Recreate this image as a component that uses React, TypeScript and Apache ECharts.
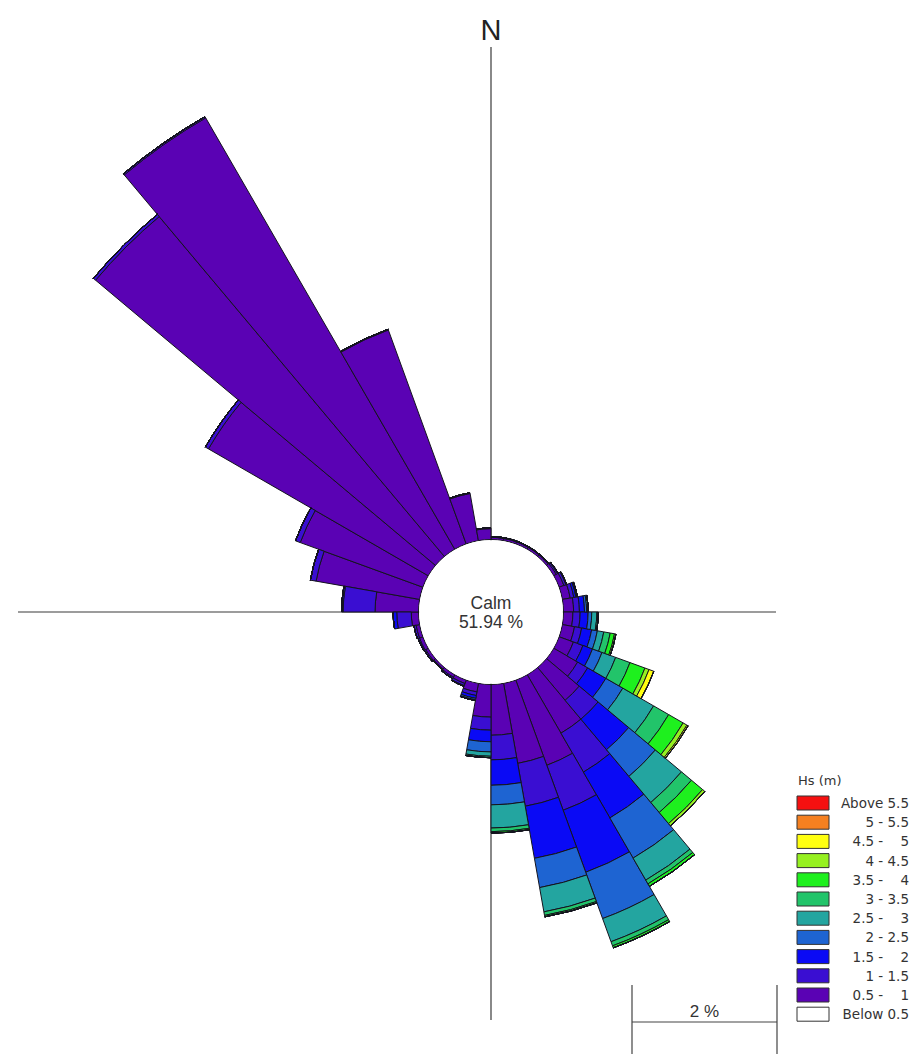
import React, { useEffect, useRef } from "react";
import * as echarts from "echarts";

// Direction bins (degrees, clockwise from North), 10° each
const directions = [
  "0", "10", "20", "30", "40", "50", "60", "70", "80", "90", "100", "110",
  "120", "130", "140", "150", "160", "170", "180", "190", "200", "210", "220", "230",
  "240", "250", "260", "270", "280", "290", "300", "310", "320", "330", "340", "350",
];

// Frequency (%) per direction bin for each Hs class
const hs_05_1 = [
  0.03, 0.03, 0.03, 0.03, 0.03, 0.04, 0.07, 0.11, 0.14, 0.13, 0.17, 0.21,
  0.38, 0.59, 0.93, 1.25, 1.12, 0.70, 0.45, 0.12, 0.05, 0.04, 0.03, 0.04,
  0.05, 0.05, 0.10, 0.60, 1.45, 1.80, 3.50, 6.12, 6.87, 3.14, 0.66, 0.15,
];
const hs_1_15 = [
  0.01, 0.01, 0.01, 0.01, 0.01, 0.02, 0.03, 0.05, 0.08, 0.10, 0.10, 0.14,
  0.16, 0.34, 0.62, 0.66, 0.60, 0.34, 0.18, 0.05, 0.03, 0.02, 0.01, 0.02,
  0.02, 0.03, 0.20, 0.44, 0.08, 0.07, 0.05, 0.04, 0.02, 0.01, 0.01, 0.01,
];
const hs_15_2 = [
  0, 0, 0, 0, 0, 0.01, 0.01, 0.03, 0.07, 0.11, 0.14, 0.14,
  0.29, 0.55, 0.73, 0.91, 0.73, 0.35, 0.16, 0.04, 0.01, 0, 0, 0,
  0, 0, 0.05, 0.02, 0, 0, 0, 0, 0, 0, 0, 0,
];
const hs_2_25 = [
  0, 0, 0, 0, 0, 0, 0, 0.01, 0.03, 0.05, 0.08, 0.14,
  0.27, 0.48, 0.64, 0.68, 0.41, 0.27, 0.14, 0.02, 0, 0, 0, 0,
  0, 0, 0, 0, 0, 0, 0, 0, 0, 0, 0, 0,
];
const hs_25_3 = [
  0, 0, 0, 0, 0, 0, 0, 0.01, 0.02, 0.07, 0.09, 0.20,
  0.49, 0.47, 0.35, 0.34, 0.34, 0.32, 0.06, 0.01, 0, 0, 0, 0,
  0, 0, 0, 0, 0, 0, 0, 0, 0, 0, 0, 0,
];
const hs_3_35 = [
  0, 0, 0, 0, 0, 0, 0, 0, 0, 0.02, 0.09, 0.21,
  0.24, 0.18, 0.06, 0.06, 0.05, 0.05, 0.02, 0, 0, 0, 0, 0,
  0, 0, 0, 0, 0, 0, 0, 0, 0, 0, 0, 0,
];
const hs_35_4 = [
  0, 0, 0, 0, 0, 0, 0, 0, 0, 0, 0.06, 0.22,
  0.23, 0.20, 0.04, 0.03, 0.02, 0.02, 0, 0, 0, 0, 0, 0,
  0, 0, 0, 0, 0, 0, 0, 0, 0, 0, 0, 0,
];
const hs_4_45 = [
  0, 0, 0, 0, 0, 0, 0, 0, 0, 0, 0.02, 0.06,
  0.06, 0.04, 0, 0, 0, 0, 0, 0, 0, 0, 0, 0,
  0, 0, 0, 0, 0, 0, 0, 0, 0, 0, 0, 0,
];
const hs_45_5 = [
  0, 0, 0, 0, 0, 0, 0, 0, 0, 0, 0, 0.07,
  0.02, 0, 0, 0, 0, 0, 0, 0, 0, 0, 0, 0,
  0, 0, 0, 0, 0, 0, 0, 0, 0, 0, 0, 0,
];
const hs_5_55 = [
  0, 0, 0, 0, 0, 0, 0, 0, 0, 0, 0, 0,
  0, 0, 0, 0, 0, 0, 0, 0, 0, 0, 0, 0,
  0, 0, 0, 0, 0, 0, 0, 0, 0, 0, 0, 0,
];
const hs_above_55 = [
  0, 0, 0, 0, 0, 0, 0, 0, 0, 0, 0, 0,
  0, 0, 0, 0, 0, 0, 0, 0, 0, 0, 0, 0,
  0, 0, 0, 0, 0, 0, 0, 0, 0, 0, 0, 0,
];

const classData = [hs_05_1, hs_1_15, hs_15_2, hs_2_25, hs_25_3, hs_3_35, hs_35_4, hs_4_45, hs_45_5, hs_5_55, hs_above_55];
const classLabels = [
  "0.5 -    1", "1 - 1.5", "1.5 -    2", "2 - 2.5", "2.5 -    3", "3 - 3.5",
  "3.5 -    4", "4 - 4.5", "4.5 -    5", "5 - 5.5", "Above 5.5",
];
const classColors = [
  "#5A02B4", "#3A0ED2", "#0A0AF5", "#1E64D2", "#23A5A0", "#22C46A",
  "#1EF01E", "#96F020", "#FFFF10", "#F58020", "#F51010",
];
const belowLabel = "Below 0.5";
const legendTitle = "Hs (m)";
const calmLabel = "Calm";
const calmPercent = "51.94 %";
const northLabel = "N";
const scaleValue = 2;
const scaleLabel = "2 %";
const radiusMax = 7;

const CX = 491;
const CY = 612;
const PX_PER_PCT = 72.5;

export default function App() {
  const ref = useRef<HTMLDivElement>(null);

  useEffect(() => {
    if (!ref.current) return;
    const chart = echarts.init(ref.current, null, { renderer: "svg" });

    const series = classData.map((d, k) => ({
      type: "bar",
      name: classLabels[k],
      coordinateSystem: "polar",
      stack: "hs",
      data: d,
      barCategoryGap: "0%",
      barGap: "0%",
      silent: true,
      itemStyle: {
        color: classColors[k],
        borderColor: "#14141e",
        borderWidth: 1,
      },
    }));

    const elements: any[] = [];
    const lineStyle = { stroke: "#3a3a3a", lineWidth: 1.2 };
    elements.push({ type: "line", z: 0, silent: true, shape: { x1: CX, y1: 47, x2: CX, y2: 1020 }, style: lineStyle });
    elements.push({ type: "line", z: 0, silent: true, shape: { x1: 18, y1: CY, x2: 776, y2: CY }, style: lineStyle });
    elements.push({ type: "circle", z: 100, silent: true, shape: { cx: CX, cy: CY, r: PX_PER_PCT - 0.7 }, style: { fill: "#ffffff" } });
    const textFont = '"Liberation Sans", Arial, sans-serif';
    elements.push({
      type: "text", z: 101, x: CX, y: 603,
      style: { text: calmLabel, font: `17.5px ${textFont}`, fill: "#333", align: "center", verticalAlign: "middle", textAlign: "center", textVerticalAlign: "middle" },
    });
    elements.push({
      type: "text", z: 101, x: CX, y: 622,
      style: { text: calmPercent, font: `17.5px ${textFont}`, fill: "#333", align: "center", verticalAlign: "middle", textAlign: "center", textVerticalAlign: "middle" },
    });
    elements.push({
      type: "text", z: 101, x: CX, y: 30,
      style: { text: northLabel, font: `29px ${textFont}`, fill: "#222", align: "center", verticalAlign: "middle", textAlign: "center", textVerticalAlign: "middle" },
    });

    // scale bar
    const sbLeft = 632;
    const sbRight = sbLeft + scaleValue * PX_PER_PCT;
    const sbStyle = { stroke: "#444", lineWidth: 1.2 };
    elements.push({ type: "line", z: 5, silent: true, shape: { x1: sbLeft, y1: 1022, x2: sbRight, y2: 1022 }, style: sbStyle });
    elements.push({ type: "line", z: 5, silent: true, shape: { x1: sbLeft, y1: 985, x2: sbLeft, y2: 1054 }, style: sbStyle });
    elements.push({ type: "line", z: 5, silent: true, shape: { x1: sbRight, y1: 985, x2: sbRight, y2: 1054 }, style: sbStyle });
    elements.push({
      type: "text", z: 5, x: (sbLeft + sbRight) / 2, y: 1011,
      style: { text: scaleLabel, font: `17px ${textFont}`, fill: "#333", align: "center", verticalAlign: "middle", textAlign: "center", textVerticalAlign: "middle" },
    });

    // legend
    const legFont = '13.5px "DejaVu Sans", Verdana, sans-serif';
    elements.push({
      type: "text", z: 5, x: 798, y: 780,
      style: { text: legendTitle, font: '13px "DejaVu Sans", Verdana, sans-serif', fill: "#333", align: "left", verticalAlign: "middle", textAlign: "left", textVerticalAlign: "middle" },
    });
    const legendRows = [...classLabels.map((l, k) => ({ label: l, color: classColors[k] })).reverse(), { label: belowLabel, color: "#ffffff" }];
    legendRows.forEach((row, i) => {
      const top = 796 + i * 19.2;
      elements.push({
        type: "rect", z: 5, silent: true,
        shape: { x: 797, y: top, width: 32, height: 14 },
        style: { fill: row.color, stroke: "#333", lineWidth: 1 },
      });
      elements.push({
        type: "text", z: 5, x: 909, y: top + 7,
        style: { text: row.label, font: legFont, fill: "#333", align: "right", verticalAlign: "middle", textAlign: "right", textVerticalAlign: "middle" },
      });
    });

    const option: any = {
      animation: false,
      backgroundColor: "#ffffff",
      polar: {
        center: [CX, CY],
        radius: [PX_PER_PCT, PX_PER_PCT * (1 + radiusMax)],
      },
      angleAxis: {
        type: "category",
        data: directions,
        startAngle: 90,
        clockwise: true,
        boundaryGap: true,
        axisLine: { show: false },
        axisTick: { show: false },
        axisLabel: { show: false },
        splitLine: { show: false },
        splitArea: { show: false },
      },
      radiusAxis: {
        type: "value",
        min: 0,
        max: radiusMax,
        axisLine: { show: false },
        axisTick: { show: false },
        axisLabel: { show: false },
        splitLine: { show: false },
        splitArea: { show: false },
      },
      series,
      graphic: { elements },
    };

    chart.setOption(option);
    return () => chart.dispose();
  }, []);

  return (
    <div
      ref={ref}
      style={{ position: "absolute", left: 0, top: 0, width: 914, height: 1054, background: "#fff" }}
    />
  );
}
